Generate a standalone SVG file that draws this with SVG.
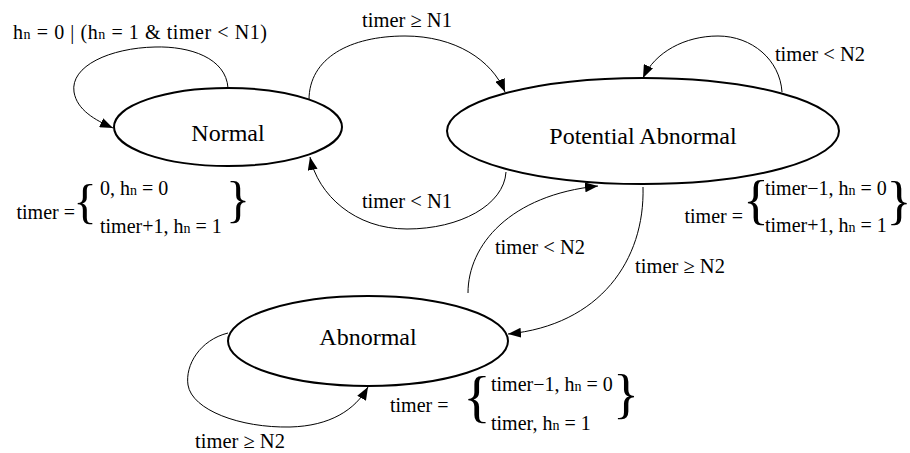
<svg xmlns="http://www.w3.org/2000/svg" width="910" height="453" viewBox="0 0 910 453">
<style>
  text { font-family: "Liberation Serif", "Times New Roman", serif; fill: #000; }
  .node { fill: #fff; stroke: #000; stroke-width: 2; }
  .nlabel { font-size: 24px; text-anchor: middle; }
  .edge { fill: none; stroke: #000; stroke-width: 1; marker-end: url(#arrow); }
  .elabel { font-size: 20.5px; text-anchor: middle; }
  .f { font-size: 20px; }
  .sub { font-size: 14px; }
  .brace { text-anchor: middle; }
</style>
<defs>
  <marker id="arrow" markerUnits="userSpaceOnUse" markerWidth="13" markerHeight="10" refX="13" refY="5" orient="auto">
    <path d="M0,0 L13,5 L0,10 z" fill="#000"/>
  </marker>
</defs>
<rect width="910" height="453" fill="#fff"/>

<g id="connectors">
  <path class="edge" d="M228,88 C226,58 190,46 155,47 C110,48 70,66 74,92 C77,110 95,120 113,128"/>
  <path class="edge" d="M309,100 C309,58 350,36 405,36 C455,36 492,60 505,92"/>
  <path class="edge" d="M506,172 C504,205 460,229 407,229 C355,229 318,195 310,157"/>
  <path class="edge" d="M782,92 C780,60 752,36 718,36 C685,36 655,52 643,78"/>
  <path class="edge" d="M468,293 C468,245 510,195 598,186"/>
  <path class="edge" d="M643,187 C645,260 600,325 508,334"/>
  <path class="edge" d="M228,333 C200,340 185,365 188,385 C192,410 240,428 290,427 C330,426 355,410 368,387"/>

  <text class="f" x="13" y="39" textLength="254" lengthAdjust="spacing">h<tspan class="sub">n</tspan> = 0  |  (h<tspan class="sub">n</tspan> = 1 &amp; timer &lt; N1)</text>
  <text class="elabel" x="407" y="27">timer ≥ N1</text>
  <text class="elabel" x="407" y="208">timer &lt; N1</text>
  <text class="elabel" x="820" y="61">timer &lt; N2</text>
  <text class="elabel" x="540" y="254">timer &lt; N2</text>
  <text class="elabel" x="680" y="273">timer ≥ N2</text>
  <text class="elabel" x="240" y="448">timer ≥ N2</text>
</g>

<g id="node-normal">
  <ellipse class="node" cx="228" cy="127" rx="114" ry="39"/>
  <text class="nlabel" x="228" y="141">Normal</text>
</g>
<g id="node-potential-abnormal">
  <ellipse class="node" cx="643" cy="131" rx="196" ry="53"/>
  <text class="nlabel" x="643" y="144">Potential Abnormal</text>
</g>
<g id="node-abnormal">
  <ellipse class="node" cx="368" cy="341" rx="140" ry="45"/>
  <text class="nlabel" x="368" y="345">Abnormal</text>
</g>

<g id="formula-normal">
  <text class="f" x="75" y="219" text-anchor="end">timer =</text>
  <text class="brace" x="85" y="218" font-size="49">{</text>
  <text class="f" x="100" y="195">0, h<tspan class="sub">n</tspan> = 0</text>
  <text class="f" x="100" y="233">timer+1, h<tspan class="sub">n</tspan> = 1</text>
  <text class="brace" x="238" y="216" font-size="50">}</text>
</g>
<g id="formula-potential">
  <text class="f" x="743" y="223" text-anchor="end">timer =</text>
  <text class="brace" x="756" y="218" font-size="54">{</text>
  <text class="f" x="765" y="195">timer−1, h<tspan class="sub">n</tspan> = 0</text>
  <text class="f" x="765" y="232">timer+1, h<tspan class="sub">n</tspan> = 1</text>
  <text class="brace" x="899" y="218" font-size="52">}</text>
</g>
<g id="formula-abnormal">
  <text class="f" x="390" y="412">timer =</text>
  <text class="brace" x="477" y="416" font-size="58">{</text>
  <text class="f" x="491" y="391">timer−1, h<tspan class="sub">n</tspan> = 0</text>
  <text class="f" x="491" y="430">timer, h<tspan class="sub">n</tspan> = 1</text>
  <text class="brace" x="626" y="412" font-size="54">}</text>
</g>
</svg>
